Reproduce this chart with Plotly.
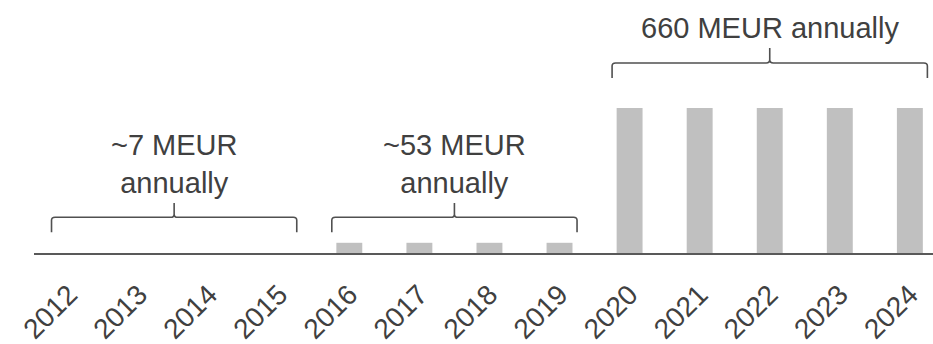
import plotly.graph_objects as go

# Annual funding, MEUR
years = ["2012", "2013", "2014", "2015", "2016", "2017", "2018", "2019",
         "2020", "2021", "2022", "2023", "2024"]
funding = [7, 7, 7, 7, 53, 53, 53, 53, 660, 660, 660, 660, 660]

# Funding periods: label, first year index, last year index
period_labels = ["~7 MEUR<br>annually", "~53 MEUR<br>annually", "660 MEUR annually"]
period_first = [0, 4, 8]
period_last = [3, 7, 12]

TEXT = "#404040"
BAR = "#c0c0c0"
FONT = "Liberation Sans, Arial, sans-serif"

# value axis starts at the smallest period level
Y0 = 7
PX_PER_UNIT = 0.222
PLOT_H = 253

x_idx = list(range(len(years)))

fig = go.Figure(go.Bar(
    x=x_idx, y=funding, marker=dict(color=BAR, line=dict(width=0)),
    width=0.37, hoverinfo="skip",
))


def brace_path(x0, x1, y_end, y_bar, y_tip, rx=0.05, ry=14):
    xc = (x0 + x1) / 2
    return (
        f"M {x0},{y_end} L {x0},{y_bar - ry} Q {x0},{y_bar} {x0 + rx},{y_bar} "
        f"L {xc - rx},{y_bar} Q {xc},{y_bar} {xc},{y_bar + ry} L {xc},{y_tip} "
        f"M {x1},{y_end} L {x1},{y_bar - ry} Q {x1},{y_bar} {x1 - rx},{y_bar} "
        f"L {xc + rx},{y_bar} Q {xc},{y_bar} {xc},{y_bar + ry} L {xc},{y_tip}"
    )


shapes = []
annotations = []
for label, a, b in zip(period_labels, period_first, period_last):
    top = max(funding[a:b + 1])
    if top > 300:
        y_end, y_bar, y_tip = top + 135, top + 203, top + 270
    else:
        y_end, y_bar, y_tip = 100, 168, 232
    pad = 0.25
    shapes.append(dict(
        type="path", xref="x", yref="y",
        path=brace_path(a - pad, b + pad, y_end, y_bar, y_tip),
        line=dict(color="#505050", width=1.6),
    ))
    annotations.append(dict(
        x=(a + b) / 2, y=y_tip + 10, xref="x", yref="y",
        text=label, showarrow=False, xanchor="center", yanchor="bottom",
        font=dict(family=FONT, size=29, color=TEXT),
    ))

fig.update_layout(
    width=933, height=344,
    margin=dict(l=34, r=0, t=0, b=344 - PLOT_H),
    paper_bgcolor="white", plot_bgcolor="white",
    showlegend=False,
    shapes=shapes, annotations=annotations,
    xaxis=dict(
        range=[-0.5, 12.33], tickmode="array", tickvals=x_idx, ticktext=years,
        tickangle=-45, showgrid=False, zeroline=False,
        showline=True, linecolor="#595959", linewidth=2,
        ticks="", ticklabelstandoff=12,
        tickfont=dict(family=FONT, size=28, color=TEXT),
    ),
    yaxis=dict(range=[Y0, Y0 + PLOT_H / PX_PER_UNIT], visible=False,
               showgrid=False, zeroline=False),
)

fig.write_html("out.html")
